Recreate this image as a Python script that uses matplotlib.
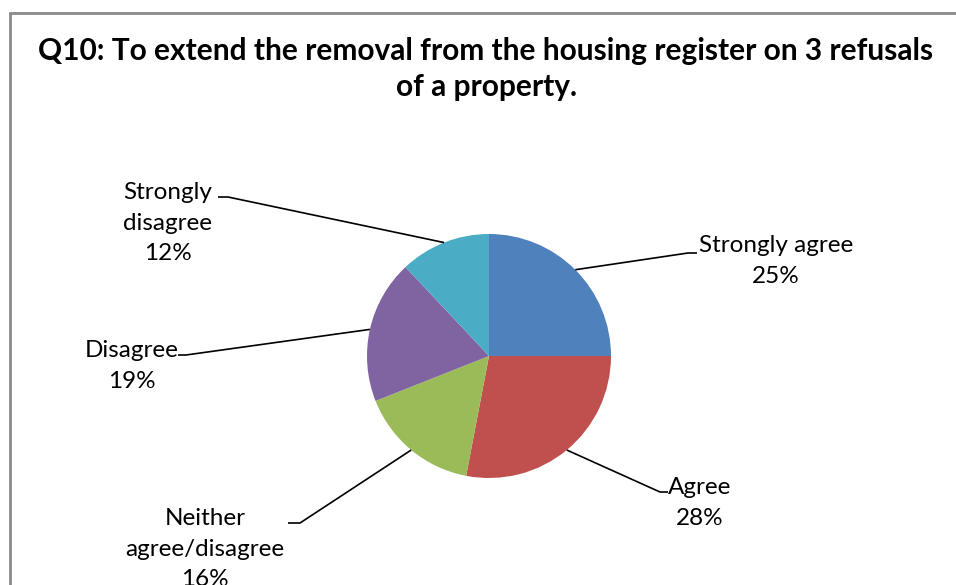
import matplotlib.pyplot as plt
import numpy as np
from matplotlib.patches import Rectangle

title = "Q10: To extend the removal from the housing register on 3 refusals\nof a property."
categories = ["Strongly agree", "Agree", "Neither\nagree/disagree", "Disagree", "Strongly\ndisagree"]
percents = [25, 28, 16, 19, 12]
colors = ["#4F81BD", "#C0504D", "#9BBB59", "#8064A2", "#4BACC6"]

W, H = 956, 585


def main():
    plt.rcParams["font.family"] = ["Lato", "DejaVu Sans"]
    fig = plt.figure(figsize=(W / 100, H / 100), dpi=100)
    ax = fig.add_axes([0, 0, 1, 1])

    cx, cy, r = 489, H - 356, 122
    wedges, _ = ax.pie(percents, colors=colors, startangle=90, counterclock=False,
                       center=(cx, cy), radius=r, wedgeprops=dict(linewidth=0))
    ax.set_xlim(0, W)
    ax.set_ylim(0, H)
    ax.set_aspect("equal")
    ax.axis("off")

    # label block centre, elbow of leader line, end of short horizontal stub
    label_pos = [(776, H - 261), (700, H - 503), (205, H - 549), (132, H - 366), (168, H - 223)]
    elbows = [(688, H - 253), (660, H - 492), (300, H - 523), (186, H - 355), (228, H - 197)]
    stubs = [(697, H - 253), (668, H - 492), (288, H - 523), (178, H - 355), (218, H - 197)]

    for w, name, pct, lp, el, st in zip(wedges, categories, percents, label_pos, elbows, stubs):
        mid = np.deg2rad((w.theta1 + w.theta2) / 2)
        x0 = cx + r * np.cos(mid)
        y0 = cy + r * np.sin(mid)
        ax.plot([x0, el[0], st[0]], [y0, el[1], st[1]], color="black", lw=1.2,
                solid_capstyle="butt")
        ax.text(lp[0], lp[1], f"{name}\n{pct}%", ha="center", va="center",
                fontsize=17.5, linespacing=1.58, color="black")

    fig.text(486 / W, 1 - 69 / H, title, ha="center", va="center", fontsize=21.5,
             fontweight="bold", linespacing=1.33)

    fig.patches.append(Rectangle((10 / W, -0.1), 1.2, 1 - 13 / H + 0.1,
                                 transform=fig.transFigure, fill=False,
                                 edgecolor="#8a8a8a", lw=2))

    fig.savefig("out.png", dpi=100, facecolor="white")
    return 0


if __name__ == "__main__":
    main()
